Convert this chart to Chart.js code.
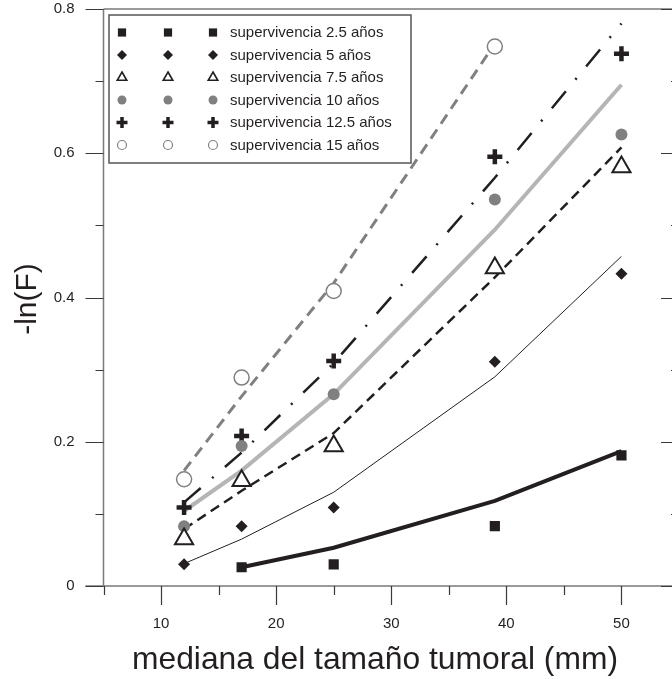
<!DOCTYPE html>
<html><head><meta charset="utf-8">
<script src="https://cdn.jsdelivr.net/npm/chart.js@4.4.1/dist/chart.umd.min.js"></script>
<style>
html,body{margin:0;padding:0;overflow:hidden;background:#fff;width:672px;height:679px}
canvas{position:absolute;left:0;top:0}
</style>
</head><body>
<canvas id="c" width="680" height="679"></canvas>
<script>
// ---- data ----
const tamano = [12, 17, 25, 39, 50];
const etiquetas = ['supervivencia 2.5 años','supervivencia 5 años','supervivencia 7.5 años','supervivencia 10 años','supervivencia 12.5 años','supervivencia 15 años'];
// observed -ln(F)
const obs25  = [null, 0.026, 0.030, 0.083, 0.181];
const obs5   = [0.030, 0.083, 0.109, 0.311, 0.433];
const obs75  = [0.065, 0.146, 0.194, 0.441, 0.581];
const obs10  = [0.083, 0.194, 0.266, 0.536, 0.626];
const obs125 = [0.109, 0.208, 0.312, 0.595, 0.738];
const obs15  = [0.148, 0.289, 0.409, 0.748, null];
// fitted curves
const fit25  = [null, 0.026, 0.053, 0.118, 0.187];
const fit5   = [0.031, 0.065, 0.130, 0.290, 0.457];
const fit75  = [0.079, 0.132, 0.212, 0.428, 0.608];
const fit10  = [0.104, 0.160, 0.266, 0.494, 0.695];
const fit125 = [0.116, 0.185, 0.309, 0.566, 0.780];
const fit15  = [0.160, 0.263, 0.420, 0.752, null];
const ticksX = [10, 20, 30, 40, 50];
const ticksY = [0, 0.2, 0.4, 0.6, 0.8];

const FONT = '"Liberation Sans", Arial, Helvetica, sans-serif';
const INK = '#231f20';

function pts(arr){ return tamano.map((x,i)=>({x:x, y:arr[i]})).filter(p=>p.y!==null); }

const estilos = [
  {obs:obs25, fit:fit25, line:{color:INK, width:4, dash:[]},
   pt:{style:'rect', r:7.2, bg:INK, bc:INK, bw:0}, lg:{style:'rect', r:5.8}},
  {obs:obs5, fit:fit5, line:{color:INK, width:1, dash:[]},
   pt:{style:'rectRot', r:6, bg:INK, bc:INK, bw:0}, lg:{style:'rectRot', r:5}},
  {obs:obs75, fit:fit75, line:{color:INK, width:2.5, dash:[10,6]},
   pt:{style:'triangle', r:10.5, bg:'#ffffff', bc:INK, bw:2}, lg:{style:'triangle', r:5.5}},
  {obs:obs10, fit:fit10, line:{color:'#b5b5b5', width:4, dash:[]},
   pt:{style:'circle', r:6, bg:'#808080', bc:'#808080', bw:0}, lg:{style:'circle', r:4.5}},
  {obs:obs125, fit:fit125, line:{color:INK, width:2.5, dash:[22,15,2,15]},
   pt:{style:'cross', r:7.5, bg:INK, bc:INK, bw:4.5}, lg:{style:'cross', r:5.5}},
  {obs:obs15, fit:fit15, line:{color:'#808080', width:3, dash:[11,7]},
   pt:{style:'circle', r:7.5, bg:'#ffffff', bc:'#808080', bw:1.5}, lg:{style:'circle', r:4.5}}
];

const datasets = [];
estilos.forEach((s,i)=>{
  datasets.push({label: etiquetas[i]+' ajuste', data: pts(s.fit), showLine:true, borderColor:s.line.color,
    borderWidth:s.line.width, borderDash:s.line.dash, borderCapStyle:'butt', pointRadius:0, fill:false, tension:0, order:10+i});
});
estilos.forEach((s,i)=>{
  datasets.push({label: etiquetas[i], data: pts(s.obs), showLine:false, pointStyle:s.pt.style, pointRadius:s.pt.r,
    pointBackgroundColor:s.pt.bg, pointBorderColor:s.pt.bc, pointBorderWidth:s.pt.bw, order:i});
});

function marker(ctx, style, x, y, r, bg, bc, bw){
  ctx.save();
  ctx.fillStyle = bg; ctx.strokeStyle = bc; ctx.lineWidth = bw;
  ctx.beginPath();
  if (style==='rect'){ const h=r*Math.SQRT1_2; ctx.rect(x-h,y-h,2*h,2*h); ctx.fill(); }
  else if (style==='rectRot'){ ctx.moveTo(x,y-r); ctx.lineTo(x+r,y); ctx.lineTo(x,y+r); ctx.lineTo(x-r,y); ctx.closePath(); ctx.fill(); }
  else if (style==='triangle'){
    ctx.moveTo(x, y-r); ctx.lineTo(x+r*0.866, y+r*0.5); ctx.lineTo(x-r*0.866, y+r*0.5); ctx.closePath();
    ctx.fill(); ctx.stroke(); }
  else if (style==='circle'){ ctx.arc(x,y,r,0,Math.PI*2); ctx.fill(); if(bw>0) ctx.stroke(); }
  else if (style==='cross'){ ctx.moveTo(x-r,y); ctx.lineTo(x+r,y); ctx.moveTo(x,y-r); ctx.lineTo(x,y+r); ctx.stroke(); }
  ctx.restore();
}

const marco = {
  id:'marco',
  beforeDatasetsDraw(chart){
    const {ctx, chartArea:a, scales:{x, y}} = chart;
    ctx.save();
    ctx.strokeStyle = '#7a7a7a'; ctx.lineWidth = 1.5;
    ctx.beginPath();
    ctx.moveTo(a.left, a.top); ctx.lineTo(a.right, a.top);
    ctx.moveTo(a.left, a.top); ctx.lineTo(a.left, a.bottom);
    ctx.moveTo(a.left-18, a.bottom); ctx.lineTo(a.right, a.bottom);
    ctx.moveTo(a.right, a.top); ctx.lineTo(a.right, a.bottom);
    ctx.stroke();
    ctx.strokeStyle = '#3a3a3a'; ctx.lineWidth = 1.2;
    ctx.beginPath();
    for (let v=5; v<=55; v+=5){
      const px = Math.round(x.getPixelForValue(v))+0.5;
      const len = (v%10===0) ? 19 : 9;
      ctx.moveTo(px, a.bottom); ctx.lineTo(px, a.bottom+len);
    }
    for (let k=0; k<=8; k++){
      const v = k/10;
      const py = Math.round(y.getPixelForValue(v))+0.5;
      const len = (k%2===0) ? 18 : 8;
      ctx.moveTo(a.left-len, py); ctx.lineTo(a.left, py);
      ctx.moveTo(a.right-len, py); ctx.lineTo(a.right, py);
    }
    ctx.stroke();
    ctx.restore();
  },
  afterDraw(chart){
    const ctx = chart.ctx;
    ctx.save();
    ctx.fillStyle = INK;
    // axis titles
    ctx.font = '31.8px ' + FONT;
    ctx.textAlign = 'center'; ctx.textBaseline = 'alphabetic';
    ctx.fillText('mediana del tamaño tumoral (mm)', 375, 669);
    ctx.save();
    ctx.translate(36, 299); ctx.rotate(-Math.PI/2);
    ctx.font = '30px ' + FONT;
    ctx.fillText('-ln(F)', 0, 0);
    ctx.restore();
    // legend
    ctx.strokeStyle = '#555555'; ctx.lineWidth = 1.5;
    ctx.fillStyle = '#ffffff';
    ctx.fillRect(109, 15, 302, 148);
    ctx.strokeRect(109, 15, 302, 148);
    ctx.font = '15px ' + FONT;
    ctx.textAlign = 'left'; ctx.textBaseline = 'middle';
    const cols = [122, 168, 213];
    estilos.forEach((s,i)=>{
      const yy = 32.5 + i*22.5;
      cols.forEach(cx=>marker(ctx, s.lg.style, cx, yy, s.lg.r, s.pt.bg, s.pt.bc,
        s.lg.style==='cross' ? 3.5 : (s.lg.style==='triangle' ? 1.6 : (s.pt.bw>0?1.2:0))));
      ctx.fillStyle = INK;
      ctx.fillText(etiquetas[i], 230, yy+0.5);
    });
    ctx.restore();
  }
};

new Chart(document.getElementById('c'), {
  type:'scatter',
  data:{datasets:datasets},
  options:{
    responsive:false, animation:false, devicePixelRatio:1, events:[],
    layout:{autoPadding:false, padding:{top:9, right:1, left:0, bottom:0}},
    plugins:{legend:{display:false}, tooltip:{enabled:false}},
    scales:{
      x:{type:'linear', min:5, max:55,
        grid:{display:false, drawTicks:false}, border:{display:false},
        afterFit(s){ s.height = 93; s.paddingLeft = 0; s.paddingRight = 0; },
        afterBuildTicks(s){ s.ticks = ticksX.map(v=>({value:v})); },
        ticks:{padding:29, color:INK, font:{family:FONT, size:15}, maxRotation:0}},
      y:{type:'linear', min:0, max:0.8,
        grid:{display:false, drawTicks:false}, border:{display:false},
        afterFit(s){ s.width = 103.5; s.paddingTop = 0; s.paddingBottom = 0; },
        afterBuildTicks(s){ s.ticks = ticksY.map(v=>({value:v})); },
        ticks:{padding:29, color:INK, font:{family:FONT, size:15},
          callback:(v)=> v===0 ? '0' : v.toFixed(1)}}
    }
  },
  plugins:[marco]
});
</script>
</body></html>
